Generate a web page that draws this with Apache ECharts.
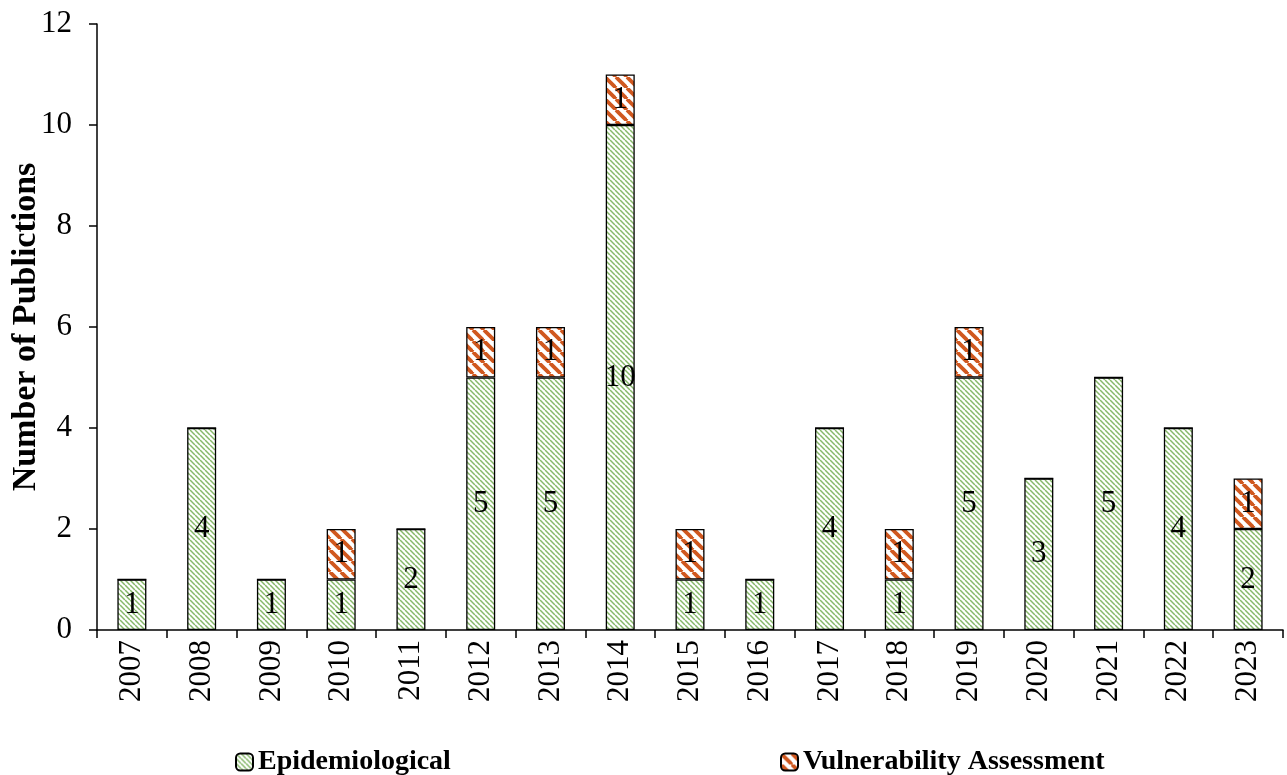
<!DOCTYPE html>
<html><head><meta charset="utf-8">
<script src="https://cdn.jsdelivr.net/npm/echarts@6/dist/echarts.min.js"></script>
<style>html,body{margin:0;padding:0;background:#fff}#c{width:1287px;height:775px}</style>
</head><body><div id="c"></div>
<script>
const years = ['2007','2008','2009','2010','2011','2012','2013','2014','2015','2016','2017','2018','2019','2020','2021','2022','2023'];
const epidemiological = [1,4,1,1,2,5,5,10,1,1,4,1,5,3,5,4,2];
const vulnerability = [0,0,0,1,0,1,1,1,1,0,0,1,1,0,0,0,1];
const yTicks = [0,2,4,6,8,10,12];

function makePattern(size, color, width) {
  const c = document.createElement('canvas');
  c.width = size; c.height = size;
  const ctx = c.getContext('2d');
  ctx.fillStyle = '#fff'; ctx.fillRect(0,0,size,size);
  ctx.strokeStyle = color; ctx.lineWidth = width;
  for (let k = -1; k <= 1; k++) {
    ctx.beginPath();
    ctx.moveTo(k*size, 0); ctx.lineTo(k*size + size, size);
    ctx.stroke();
  }
  return {image: c, repeat: 'repeat'};
}
const greenPat = makePattern(5, '#86b869', 1.5);
const orangePat = makePattern(11, '#d0581f', 3.8);

const font = '"Liberation Serif", "Times New Roman", serif';
const chart = echarts.init(document.getElementById('c'), null, {renderer: 'canvas'});
const lbl = {
  show: true, position: 'inside', color: '#000', fontFamily: font, fontSize: 31,
  formatter: p => (p.value ? String(p.value) : '')
};
const legendText = {fontFamily: font, fontSize: 28, fontWeight: 'bold', color: '#000'};
chart.setOption({
  animation: false,
  grid: {left: 97, right: 4, top: 24, bottom: 145, containLabel: false, outerBoundsMode: 'none'},
  legend: [
    {top: 743, left: 230, itemWidth: 17, itemHeight: 17, itemGap: 8, textStyle: legendText, data: ['Epidemiological']},
    {top: 743, left: 775, itemWidth: 17, itemHeight: 17, itemGap: 8, textStyle: legendText, data: ['Vulnerability Assessment']}
  ],
  xAxis: {
    type: 'category', data: years,
    axisLine: {lineStyle: {color: '#000', width: 1.5}},
    axisTick: {show: true, alignWithLabel: false, length: 8, lineStyle: {color: '#000', width: 1.5}},
    axisLabel: {rotate: 90, color: '#000', fontFamily: font, fontSize: 31, margin: 10}
  },
  yAxis: {
    type: 'value', min: 0, max: 12, interval: 2,
    name: 'Number of Publictions', nameLocation: 'middle', nameGap: 54, nameRotate: 90, nameMoveOverlap: false,
    nameTextStyle: {fontFamily: font, fontSize: 34, fontWeight: 'bold', color: '#000'},
    axisLine: {show: true, lineStyle: {color: '#000', width: 1.5}},
    axisTick: {show: true, length: 8, lineStyle: {color: '#000', width: 1.5}},
    splitLine: {show: false},
    axisLabel: {color: '#000', fontFamily: font, fontSize: 31, margin: 25, formatter: v => yTicks.includes(v) ? String(v) : ''}
  },
  series: [
    {name: 'Epidemiological', type: 'bar', stack: 's', data: epidemiological, barWidth: 29,
     itemStyle: {color: greenPat, borderColor: '#000', borderWidth: 1.3}, label: lbl},
    {name: 'Vulnerability Assessment', type: 'bar', stack: 's', data: vulnerability, barWidth: 29,
     itemStyle: {color: orangePat, borderColor: '#000', borderWidth: 1.3}, label: lbl}
  ]
});
</script></body></html>
